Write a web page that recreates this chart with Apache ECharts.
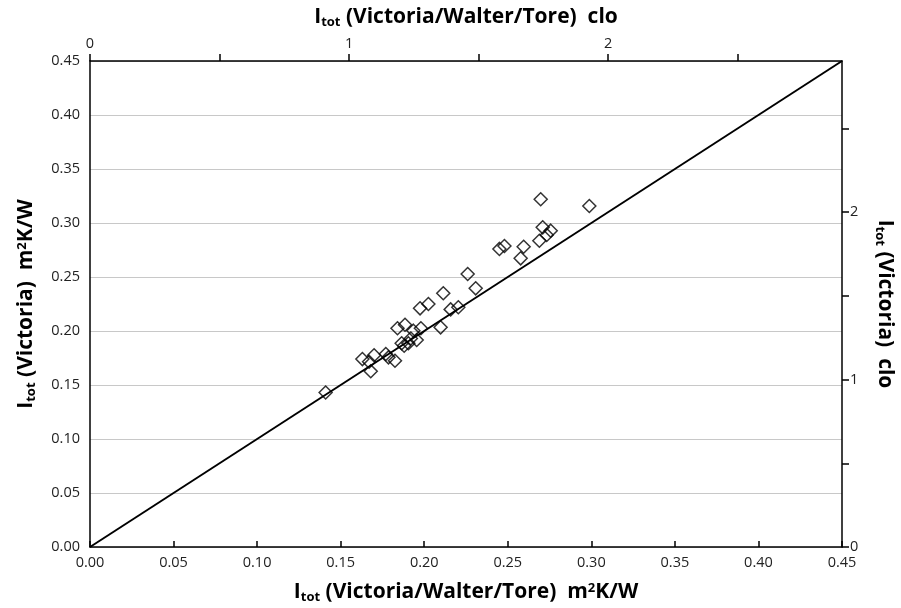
<!DOCTYPE html>
<html>
<head>
<meta charset="utf-8">
<script src="https://cdn.jsdelivr.net/npm/echarts@6/dist/echarts.min.js"></script>
<style>
  html, body { margin: 0; padding: 0; background: #fff; }
  #chart { width: 901px; height: 608px; }
</style>
</head>
<body>
<div id="chart"></div>
<script>
// measured pairs: x = I_tot (Victoria/Walter/Tore), y = I_tot (Victoria), m2K/W
const itotWalter = [
  0.141, 0.163, 0.167, 0.170, 0.168, 0.177, 0.1786, 0.1825, 0.184, 0.1885,
  0.1865, 0.188, 0.1905, 0.192, 0.1935, 0.1955, 0.198, 0.1975, 0.2025, 0.2098,
  0.2114, 0.2158, 0.2204, 0.226, 0.2308, 0.245, 0.248, 0.2577, 0.2595, 0.2697,
  0.2689, 0.2709, 0.2733, 0.2757, 0.2988
]
const itotVictoria = [
  0.143, 0.174, 0.1716, 0.1775, 0.1627, 0.1787, 0.1756, 0.1725, 0.2025, 0.2058,
  0.1886, 0.1864, 0.1886, 0.193, 0.2003, 0.1917, 0.2025, 0.221, 0.225, 0.2034,
  0.2349, 0.220, 0.222, 0.2528, 0.2395, 0.276, 0.2787, 0.2673, 0.278, 0.322,
  0.2836, 0.296, 0.2889, 0.2929, 0.3157
]
const identityLine = [[0, 0], [0.45, 0.45]]
const CLO = 0.155
const axisMax = 0.45
const cloTicks = [0, 0.5, 1, 1.5, 2, 2.5]
const cloLabels = [0, 1, 2]

const FONT = "'Open Sans', sans-serif"
const nameRich = {
  a: { fontSize: 21, fontWeight: 'bold', fontFamily: FONT, color: '#000' },
  b: { fontSize: 13, fontWeight: 'bold', fontFamily: FONT, color: '#000', padding: [11, 0, 0, 0] },
  c: { fontSize: 13, fontWeight: 'bold', fontFamily: FONT, color: '#000', padding: [0, 0, 8, 0] }
}
const blackLine = { show: true, onZero: false, lineStyle: { color: '#000', width: 1.5 } }
const labelStyle = { color: '#222', fontSize: 14.5, fontFamily: FONT }
const tickStyle = { color: '#000', width: 1.5 }

const chart = echarts.init(document.getElementById('chart'))
const option = {
  animation: false,
  grid: { left: 90, right: 59, top: 61, bottom: 61, outerBoundsMode: 'none' },
  xAxis: [
    {
      type: 'value', position: 'bottom', min: 0, max: axisMax, interval: 0.05,
      axisLine: blackLine,
      axisTick: { show: true, inside: true, length: 6, lineStyle: tickStyle },
      axisLabel: Object.assign({ margin: 8, formatter: v => v.toFixed(2) }, labelStyle),
      splitLine: { show: false },
      name: '{a|I}{b|tot}{a| (Victoria/Walter/Tore)  m}{c|2}{a|K/W}',
      nameLocation: 'middle', nameGap: 33,
      nameTextStyle: { rich: nameRich }
    },
    {
      type: 'value', position: 'top', min: 0, max: axisMax / CLO,
      axisLine: blackLine,
      axisTick: { show: true, inside: false, length: 7, customValues: cloTicks, lineStyle: tickStyle },
      axisLabel: Object.assign({ margin: 10, customValues: cloLabels }, labelStyle),
      splitLine: { show: false },
      name: '{a|I}{b|tot}{a| (Victoria/Walter/Tore)  clo}',
      nameLocation: 'middle', nameGap: 32,
      nameTextStyle: { rich: nameRich }
    }
  ],
  yAxis: [
    {
      type: 'value', position: 'left', min: 0, max: axisMax, interval: 0.05,
      axisLine: blackLine,
      axisTick: { show: false },
      axisLabel: Object.assign({ margin: 10, formatter: v => v.toFixed(2) }, labelStyle),
      splitLine: { show: true, lineStyle: { color: '#c8c8c8', width: 1 } },
      name: '{a|I}{b|tot}{a| (Victoria)  m}{c|2}{a|K/W}',
      nameLocation: 'middle', nameGap: 52, nameRotate: 90,
      nameTextStyle: { rich: nameRich }
    },
    {
      type: 'value', position: 'right', min: 0, max: axisMax / CLO,
      axisLine: blackLine,
      axisTick: { show: true, inside: false, length: 7, customValues: cloTicks, lineStyle: tickStyle },
      axisLabel: Object.assign({ margin: 8, customValues: cloLabels }, labelStyle),
      splitLine: { show: false },
      name: '{a|I}{b|tot}{a| (Victoria)  clo}',
      nameLocation: 'middle', nameGap: 31, nameRotate: -90,
      nameTextStyle: { rich: nameRich }
    }
  ],
  series: [
    {
      type: 'line',
      xAxisIndex: 0, yAxisIndex: 0,
      data: identityLine,
      symbol: 'none',
      lineStyle: { color: '#000', width: 2 },
      z: 2
    },
    {
      type: 'scatter',
      xAxisIndex: 0, yAxisIndex: 0,
      data: itotWalter.map((x, i) => [x, itotVictoria[i]]),
      symbol: 'diamond',
      symbolSize: 13,
      itemStyle: { color: 'rgba(255,255,255,0)', borderColor: '#000', borderWidth: 1.5 },
      z: 3
    }
  ]
}
chart.setOption(option)
</script>
</body>
</html>
